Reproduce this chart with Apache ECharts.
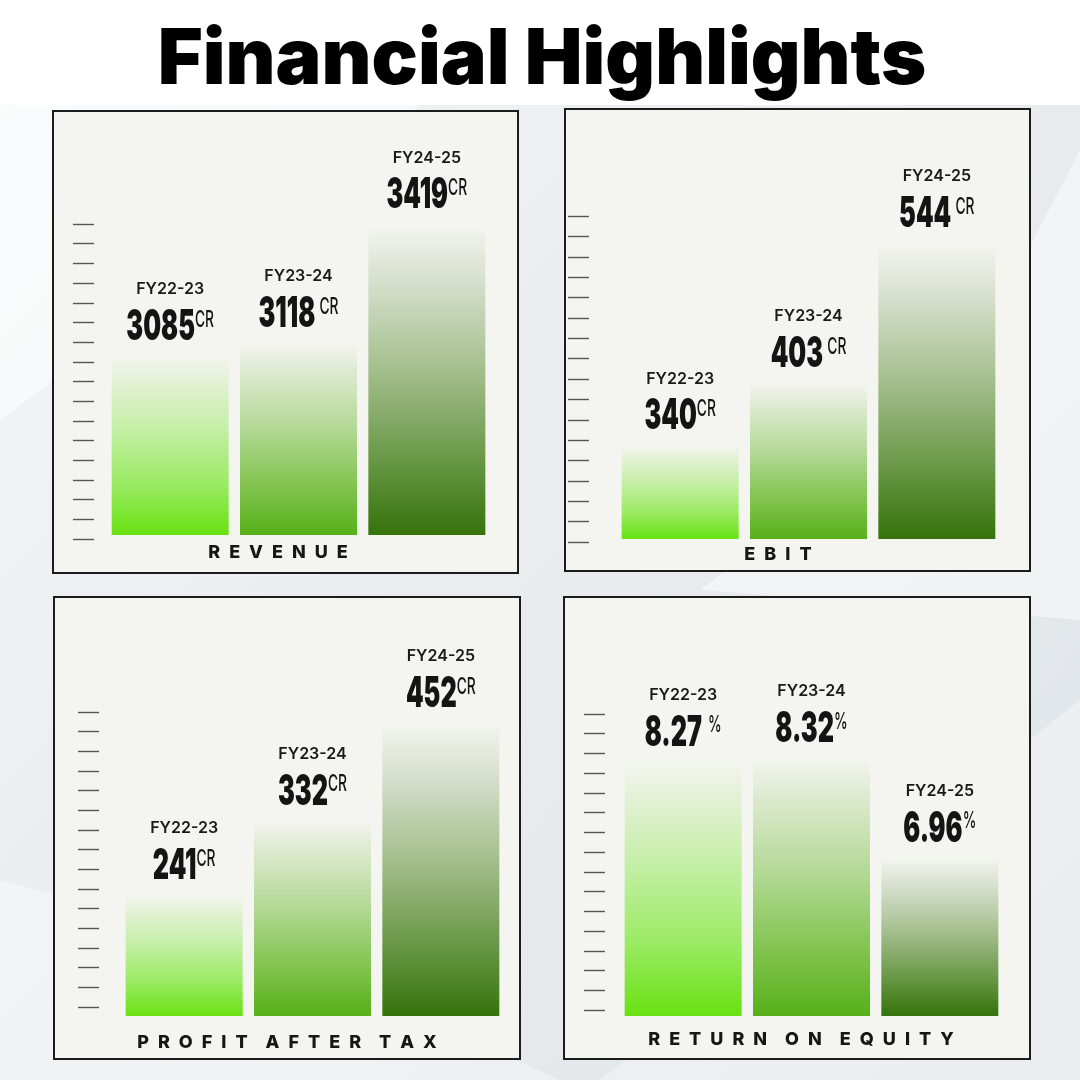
<!DOCTYPE html>
<html>
<head>
<meta charset="utf-8">
<style>
html,body{margin:0;padding:0;background:#fff;}
#c{width:1080px;height:1080px;}
</style>
<script src="https://cdn.jsdelivr.net/npm/echarts@6/dist/echarts.min.js"></script>
</head>
<body>
<div id="c"></div>
<script>
// ---- data ----
const years = ['FY22-23', 'FY23-24', 'FY24-25'];
const revenue = [3085, 3118, 3419];
const ebit = [340, 403, 544];
const pat = [241, 332, 452];
const roe = [8.27, 8.32, 6.96];
const units = ['CR', 'CR', 'CR', '%'];
const panelTitles = ['REVENUE', 'EBIT', 'PROFIT AFTER TAX', 'RETURN ON EQUITY'];
const mainTitle = 'Financial Highlights';

// ---- layout / style ----
const chart = echarts.init(document.getElementById('c'), null, {renderer: 'canvas'});
const PANEL_BG = '#f4f5f0';
const gradStops = [
  [['#f4f5f0', 0], ['#e3f1d5', 0.14], ['#c2efa3', 0.42], ['#9aea62', 0.72], ['#68e212', 1]],
  [['#f4f5f0', 0], ['#deead1', 0.14], ['#b3d996', 0.44], ['#83c450', 0.74], ['#56b018', 1]],
  [['#f4f5f0', 0], ['#dde4d5', 0.14], ['#a9c294', 0.44], ['#6c9a4a', 0.74], ['#36730b', 1]]
];
function grad(i) {
  return new echarts.graphic.LinearGradient(0, 0, 0, 1,
    gradStops[i].map(s => ({offset: s[1], color: s[0]})));
}
const seriesValues = [revenue, ebit, pat, roe];
const panels = [
  {box: [53, 111, 465, 462], bar: {left: 106, top: 193, bottom: 535}, min: 2630, max: 3500,
   ticks: {x: 94, top: 224, bottom: 539, n: 16}, label: [278, 553], gap: [0, 7, 0]},
  {box: [565, 109, 465, 462], bar: {left: 616, top: 188, bottom: 539}, min: 246, max: 600,
   ticks: {x: 589, top: 216, bottom: 542, n: 16}, label: [778, 555], gap: [0, 7, 7]},
  {box: [54, 597, 466, 462], bar: {left: 120, top: 684, bottom: 1016}, min: 93, max: 500,
   ticks: {x: 99, top: 712, bottom: 1007, n: 15}, label: [287, 1043], gap: [0, 0, 0]},
  {box: [564, 597, 466, 462], bar: {left: 619, top: 694, bottom: 1016}, min: 4.8, max: 9.2,
   ticks: {x: 605, top: 714, bottom: 1010, n: 15}, label: [801, 1040], gap: [10, 0, 0]}
];

const grids = [], xAxes = [], yAxes = [], series = [], barGridIdx = [];
panels.forEach((p, k) => {
  grids.push({left: p.bar.left, top: p.bar.top, width: 385, height: p.bar.bottom - p.bar.top});
  const gi = grids.length - 1;
  barGridIdx.push(gi);
  xAxes.push({type: 'category', gridIndex: gi, data: years, show: false});
  yAxes.push({type: 'value', gridIndex: gi, min: p.min, max: p.max, show: false});
  series.push({
    type: 'bar', xAxisIndex: gi, yAxisIndex: gi, barWidth: 117,
    data: seriesValues[k].map((v, i) => ({value: v, itemStyle: {color: grad(i)}}))
  });
  grids.push({left: p.ticks.x, top: p.ticks.top, width: 1, height: p.ticks.bottom - p.ticks.top});
  const ti = grids.length - 1;
  xAxes.push({type: 'value', gridIndex: ti, show: false});
  yAxes.push({type: 'value', gridIndex: ti, min: 0, max: p.ticks.n, interval: 1,
    axisLine: {show: false}, axisLabel: {show: false}, splitLine: {show: false},
    axisTick: {show: true, length: 21, lineStyle: {color: '#555', width: 1.4}}});
});

chart.setOption({
  backgroundColor: '#ffffff',
  animation: false,
  grid: grids, xAxis: xAxes, yAxis: yAxes, series: series
});

const graphics = [];
graphics.push({type: 'rect', z: -10, shape: {x: 0, y: 105, width: 1080, height: 975},
  style: {fill: new echarts.graphic.LinearGradient(0, 0, 1, 1, [
    {offset: 0, color: '#f3f5f6'}, {offset: 0.5, color: '#e8ecee'}, {offset: 1, color: '#dfe4e9'}])}});
graphics.push({type: 'polygon', z: -9, shape: {points: [[0, 105], [420, 105], [0, 420]]}, style: {fill: 'rgba(255,255,255,0.55)'}});
graphics.push({type: 'polygon', z: -9, shape: {points: [[1080, 150], [1080, 620], [700, 590], [950, 400]]}, style: {fill: 'rgba(255,255,255,0.45)'}});
graphics.push({type: 'polygon', z: -9, shape: {points: [[0, 880], [0, 1080], [560, 1080], [300, 960]]}, style: {fill: 'rgba(255,255,255,0.35)'}});
graphics.push({type: 'polygon', z: -9, shape: {points: [[600, 1080], [1080, 700], [1080, 1080]]}, style: {fill: 'rgba(255,255,255,0.35)'}});
graphics.push({type: 'rect', z: -8, shape: {x: 0, y: 0, width: 1080, height: 105}, style: {fill: '#ffffff'}});

panels.forEach((p, k) => {
  graphics.push({type: 'rect', z: -5, shape: {x: p.box[0], y: p.box[1], width: p.box[2], height: p.box[3]},
    style: {fill: PANEL_BG, stroke: '#1c1c1c', lineWidth: 2}});
  graphics.push({type: 'text', z: 5, x: p.label[0], y: p.label[1],
    style: {text: panelTitles[k].split(' ').map(w => w.split('').join('\u2002')).join('\u2002\u2002'),
      font: '800 18px Inter, "Open Sans", sans-serif', fill: '#161616', align: 'center', verticalAlign: 'middle'}});
  // value labels positioned through the bar axes
  seriesValues[k].forEach((v, i) => {
    const pt = chart.convertToPixel({gridIndex: barGridIdx[k]}, [i, v]);
    const txt = (k === 3 ? v.toFixed(2) : String(v));
    graphics.push({type: 'text', z: 10, x: pt[0], y: pt[1] - 59,
      style: {text: years[i], font: '600 16px Inter, Roboto, sans-serif', fill: '#1a1a1a',
        align: 'center', verticalAlign: 'bottom'}});
    graphics.push({type: 'text', z: 10, x: pt[0], y: pt[1] - 8, scaleX: 0.6,
      style: {text: '{num|' + txt + '}{cr|' + units[k] + '}', align: 'center', verticalAlign: 'bottom',
        rich: {
          num: {fontFamily: 'Inter, Roboto, sans-serif', fontWeight: 900, fontSize: 42, fill: '#141414', lineHeight: 42},
          cr: {fontFamily: 'Inter, Roboto, sans-serif', fontWeight: 500, fontSize: 23, fill: '#141414', lineHeight: 42,
               verticalAlign: 'top', padding: [2, 0, 0, p.gap[i]]}
        }}});
  });
});
graphics.push({type: 'text', z: 5, x: 542, y: 61,
  style: {text: mainTitle, font: '900 77px Inter, "DejaVu Sans", sans-serif', fill: '#000', align: 'center', verticalAlign: 'middle'}});

chart.setOption({graphic: {elements: graphics}});
</script>
</body>
</html>
